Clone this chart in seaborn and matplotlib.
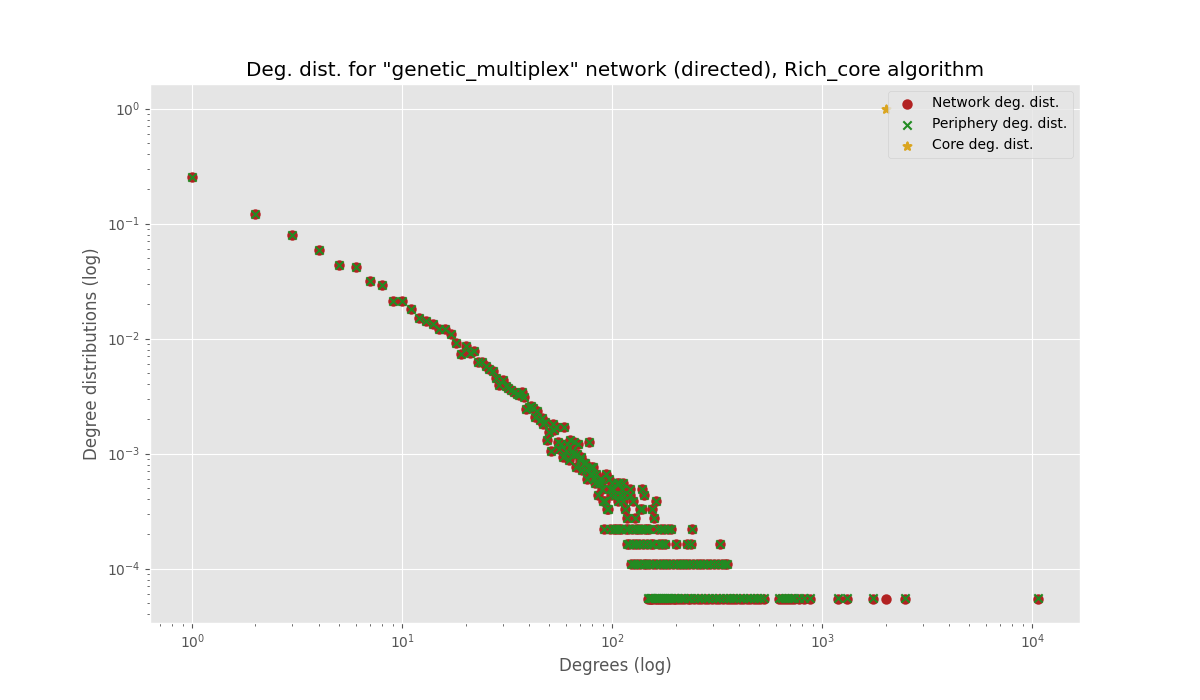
import numpy as np
import pandas as pd
import matplotlib
matplotlib.use('Agg')
import matplotlib.pyplot as plt
import seaborn as sns

# network size (nodes)
n_nodes = 18222

# degrees 1..100 and their node counts
degrees_head = list(range(1, 101))
counts_head = [
    4641, 2212, 1452, 1075, 798, 765, 581, 527, 388, 388,
    330, 275, 257, 246, 219, 219, 200, 165, 134, 156,
    137, 141, 115, 113, 105, 98, 95, 83, 72, 80,
    70, 67, 65, 63, 60, 59, 63, 57, 44, 46,
    47, 45, 38, 43, 36, 37, 33, 34, 24, 28,
    19, 33, 29, 31, 23, 20, 22, 17, 31, 19,
    22, 16, 24, 19, 18, 23, 14, 18, 22, 16,
    17, 13, 15, 15, 13, 11, 23, 12, 14, 12,
    14, 11, 10, 12, 8, 10, 11, 10, 9, 7,
    4, 7, 12, 6, 6, 11, 9, 4, 8, 10,
]

# scattered degrees above 100 with count >= 5
degrees_mid = [101, 103, 105, 106, 108, 109, 111, 112, 113, 114, 115, 117,
               121, 122, 126, 128, 136, 138, 139, 142, 154, 158, 162]
counts_mid = [9, 8, 10, 7, 10, 8, 9, 10, 7, 8, 6, 5,
              9, 8, 7, 5, 6, 6, 9, 8, 6, 5, 7]

# degrees whose count is 4, 3, 2, 1
degrees_c4 = [102, 104, 107, 110, 116, 119, 124, 130, 133, 137, 143, 146, 150,
              164, 170, 177, 184, 191, 240]
degrees_c3 = [118, 120, 125, 129, 134, 140, 147, 152, 157, 166, 172, 178,
              200, 226, 237, 324]
degrees_c2 = [123, 127, 131, 135, 141, 145, 149, 156, 161, 168, 175, 181, 187,
              194, 203, 210, 217, 224, 232, 243, 252, 261, 271, 282, 293, 305,
              318, 331, 345, 353]
degrees_c1 = [148, 151, 153, 155, 159, 163, 167, 171, 174, 179, 183, 186, 190,
              196, 199, 205, 212, 219, 228, 235, 246, 255, 265, 275, 286, 298,
              310, 322, 336, 350, 362, 376, 390, 405, 420, 436, 452, 470, 488,
              506, 530, 620, 640, 663, 686, 710, 735, 775, 820, 875,
              1190, 1310, 1750, 2465, 10600]

# the single core node
core_degrees = [2000]
core_values = [1.0]

net = pd.DataFrame({
    'degree': degrees_head + degrees_mid + degrees_c4 + degrees_c3 + degrees_c2 + degrees_c1,
    'count': counts_head + counts_mid + [4] * len(degrees_c4) + [3] * len(degrees_c3)
             + [2] * len(degrees_c2) + [1] * len(degrees_c1),
})
per = net.copy()
net = pd.concat([net, pd.DataFrame({'degree': core_degrees, 'count': [1]})], ignore_index=True)
net['value'] = net['count'] / n_nodes
per['value'] = per['count'] / (n_nodes - 1)
core = pd.DataFrame({'degree': core_degrees, 'value': core_values})

plt.style.use('ggplot')
fig, ax = plt.subplots(figsize=(12, 7), dpi=100)

sns.scatterplot(data=net, x='degree', y='value', color='firebrick', marker='o',
                s=36, linewidth=1.5, edgecolor='face', label='Network deg. dist.', ax=ax)
sns.scatterplot(data=per, x='degree', y='value', color='forestgreen', marker='x',
                s=36, linewidth=1.5, label='Periphery deg. dist.', ax=ax)
sns.scatterplot(data=core, x='degree', y='value', color='goldenrod', marker='*',
                s=36, linewidth=1.5, edgecolor='face', label='Core deg. dist.', ax=ax)

ax.set_xscale('log')
ax.set_yscale('log')
ax.set_title('Deg. dist. for "genetic_multiplex" network (directed), Rich_core algorithm')
ax.set_xlabel('Degrees (log)')
ax.set_ylabel('Degree distributions (log)')
ax.legend(loc='upper right')

fig.savefig('out.png')
